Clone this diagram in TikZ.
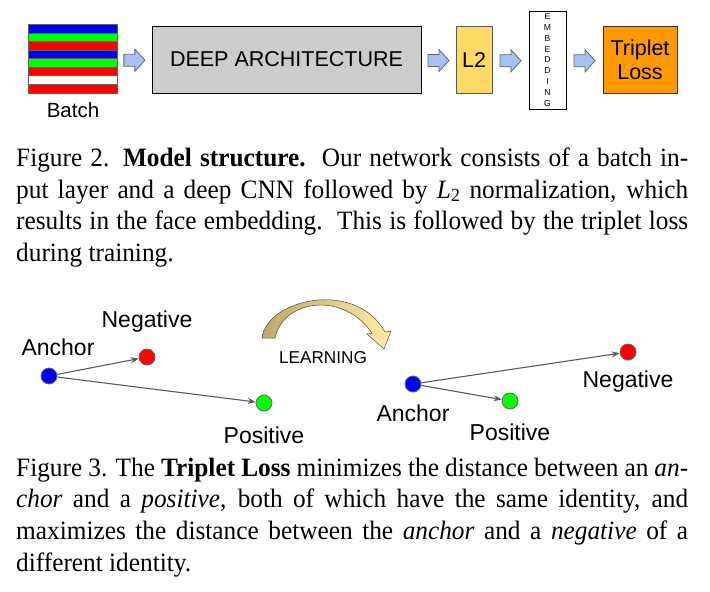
\documentclass[tikz,border=0pt]{standalone}
\usepackage{fontspec}
\setmainfont[FakeStretch=0.955]{Liberation Serif}
\newfontfamily\arialf{Liberation Sans}
\usetikzlibrary{arrows.meta,calc}
\definecolor{bblue}{HTML}{0000FF}
\definecolor{bgreen}{HTML}{00FF00}
\definecolor{bred}{HTML}{FF0000}
\definecolor{deepgray}{HTML}{CCCCCC}
\definecolor{lyellow}{HTML}{FFD966}
\definecolor{tlorange}{HTML}{FF9900}
\definecolor{arrblue}{HTML}{A4C2F4}
\definecolor{tanA}{HTML}{BFA86A}
\definecolor{tanB}{HTML}{FFEBA8}
\definecolor{connc}{HTML}{5A5A5A}
\newcommand\blockarrow[2]{%
  \path (#1.east) -- (#2.west) coordinate[pos=0.5] (mid#1);
  \draw[barrow] ($(mid#1)+(-10.5,-5)$) -- ++(11,0) -- ++(0,-5) -- ++(10,11)
    -- ++(-10,11) -- ++(0,-5) -- ++(-11,0) -- cycle;}
\tikzset{
  box/.style={draw=black, line width=0.9pt, inner sep=0pt, align=center},
  barrow/.style={fill=arrblue, draw=gray!80!black, line width=0.8pt},
  dot/.style={circle, minimum size=16pt, inner sep=0pt, draw=gray!80!black, line width=0.8pt},
  conn/.style={draw=connc, line width=1.1pt, -{Stealth[length=8pt,width=6pt]}},
  lbl/.style={inner sep=0pt, font=\arialf\fontsize{23}{26}\selectfont},
  captxt/.style={anchor=base west, inner sep=0pt, font=\fontsize{26.5}{32}\selectfont},
}
\begin{document}
\begin{tikzpicture}[x=1pt,y=-1pt]
\path[use as bounding box, fill=white] (0,0) rectangle (710,592);
% ---------- batch ----------
\path node[minimum width=88pt, minimum height=68pt, inner sep=0pt] (batch) at (73,59) {};
\foreach \c [count=\i from 0] in {bblue,bgreen,bred,bblue,bgreen,bred,white,bred}{
  \fill[\c] ($(batch.north west)+(0,\i*8.5)$) rectangle ++(88,8.5);
}
\foreach \i in {1,...,7}{
  \draw[gray!75!black, line width=0.9pt] ($(batch.north west)+(0,\i*8.5)$) -- ++(88,0);
}
\draw[gray!75!black, line width=1pt] (batch.north west) rectangle (batch.south east);
\node[inner sep=0pt, font=\arialf\fontsize{4}{4}\selectfont, text=black!70] (dots) at ($(batch.north)+(0,48)$) {- - -};
\node[inner sep=0pt, font=\arialf\fontsize{20.5}{24}\selectfont] (batchlbl) at (73,110) {Batch};
% ---------- pipeline ----------
\node[box, fill=deepgray, minimum width=269pt, minimum height=67pt, font=\arialf\fontsize{21.5}{24}\selectfont] (deep) at (286.5,59.5) {DEEP ARCHITECTURE};
\node[box, draw=gray!70!black, fill=lyellow, minimum width=36pt, minimum height=67pt, font=\arialf\fontsize{21.5}{24}\selectfont] (l2) at (474,59.5) {L2};
\node[box, fill=white, minimum width=37pt, minimum height=98pt, font=\arialf\fontsize{8.6}{10.9}\selectfont] (emb) at (547.5,60) {E\\M\\B\\E\\D\\D\\I\\N\\G};
\node[box, draw=black!80, fill=tlorange, minimum width=74pt, minimum height=67pt, font=\arialf\fontsize{21.5}{24}\selectfont] (tl) at (640,59.5) {Triplet\\Loss};
\blockarrow{batch}{deep}
\blockarrow{deep}{l2}
\blockarrow{l2}{emb}
\blockarrow{emb}{tl}
% ---------- caption 1 ----------
\node[captxt] (c1a) at (16,166.5) {\makebox[672pt][s]{Figure 2. \textbf{Model structure.}\ \ Our network consists of a batch in-}};
\node[captxt] (c1b) at (16,198.2) {\makebox[672pt][s]{put layer and a deep CNN followed by \textit{L}\textsubscript{2} normalization, which}};
\node[captxt] (c1c) at (16,229.9) {\makebox[672pt][s]{results in the face embedding.\ \ This is followed by the triplet loss}};
\node[captxt] (c1d) at (16,261.6) {during training.};
% ---------- triplet illustration ----------
\node[dot, fill=bblue] (a1) at (49,376) {};
\node[dot, fill=bred] (n1) at (147,357) {};
\node[dot, fill=bgreen] (p1) at (264,403) {};
\node[lbl] (a1l) at (58,347) {Anchor};
\node[lbl] (n1l) at (147,322) {Negative};
\node[lbl] (p1l) at (264,435) {Positive};
\draw[conn] (a1) -- (n1);
\draw[conn] (a1) -- (p1);
\node[dot, fill=bblue] (a2) at (413,384) {};
\node[dot, fill=bred] (n2) at (628,352) {};
\node[dot, fill=bgreen] (p2) at (510,401) {};
\node[lbl] (a2l) at (413,413) {Anchor};
\node[lbl] (n2l) at (628,382) {Negative};
\node[lbl] (p2l) at (510,432) {Positive};
\draw[conn] (a2) -- (n2);
\draw[conn] (a2) -- (p2);
% learning arrow
\shade[left color=tanA, right color=tanB, draw=gray!60!black, line width=0.5pt]
  (262,338) .. controls (266,300) and (355,278) .. (385,332) -- (391,331) -- (384,349)
  -- (367,334) -- (372,333.4) .. controls (345,292) and (284,298) .. (275,338) -- cycle;
\node[inner sep=0pt, font=\arialf\fontsize{17.2}{20}\selectfont] (learn) at (323,358) {LEARNING};
% ---------- caption 2 ----------
\node[captxt] (c2a) at (16,476) {\makebox[672pt][s]{Figure 3. The \textbf{Triplet Loss} minimizes the distance between an \textit{an-}}};
\node[captxt] (c2b) at (16,507.7) {\makebox[672pt][s]{\textit{chor} and a \textit{positive}, both of which have the same identity, and}};
\node[captxt] (c2c) at (16,539.4) {\makebox[672pt][s]{maximizes the distance between the \textit{anchor} and a \textit{negative} of a}};
\node[captxt] (c2d) at (16,571.1) {different identity.};
\end{tikzpicture}
\end{document}
